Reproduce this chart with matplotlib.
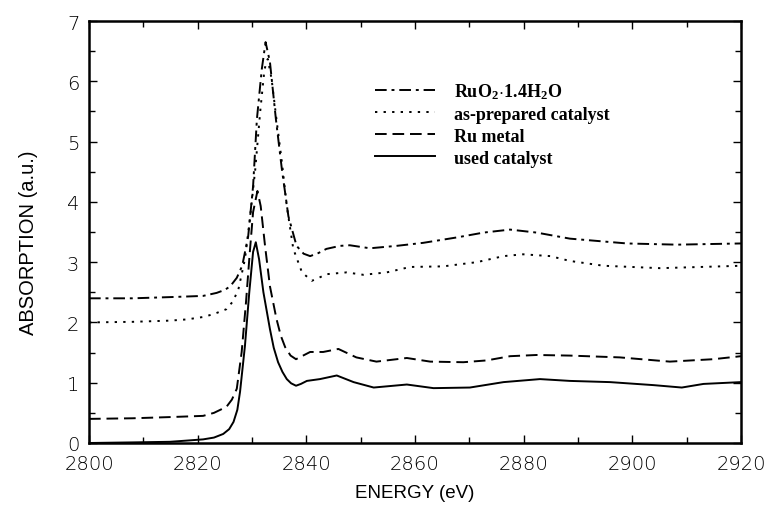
import numpy as np
import matplotlib
matplotlib.use("Agg")
import matplotlib.pyplot as plt
from matplotlib.ticker import MultipleLocator

# Ru K-edge XANES spectra
# energies (eV) and absorption (a.u.) for each sample

e_ruo2 = [2800, 2808, 2814.9, 2818, 2821, 2823.5, 2825, 2826, 2827.2, 2828.2, 2829.3,
          2830.2, 2830.9, 2831.8, 2832.5, 2833.3, 2834.4, 2835.5, 2836.7, 2838.2,
          2839.5, 2840.7, 2842.2, 2843.7, 2846.2, 2848, 2851.7, 2856.6, 2861.5,
          2867.7, 2872.6, 2877.5, 2882.4, 2888.5, 2899, 2908.2, 2920]
a_ruo2 = [2.40, 2.40, 2.42, 2.43, 2.44, 2.49, 2.54, 2.60, 2.74, 2.94, 3.43,
          4.26, 5.37, 6.20, 6.65, 6.32, 5.37, 4.54, 3.76, 3.27,
          3.14, 3.10, 3.15, 3.22, 3.27, 3.28, 3.23, 3.27, 3.32,
          3.41, 3.49, 3.54, 3.49, 3.39, 3.31, 3.29, 3.31]

e_prep = [2800, 2808, 2814.9, 2818, 2821, 2823, 2825.3, 2826.5, 2827.5, 2828.7, 2829.6,
          2830.6, 2831.5, 2832.3, 2832.9, 2833.6, 2834.5, 2835.5, 2836.4, 2837.6,
          2839.2, 2841, 2842.3, 2843.7, 2847.4, 2850.5, 2854.8, 2859.1, 2865.2,
          2871.4, 2876.3, 2879.9, 2884.9, 2888.5, 2894.7, 2905.1, 2920]
a_prep = [2.00, 2.01, 2.03, 2.05, 2.09, 2.14, 2.22, 2.35, 2.55, 3.05, 3.71,
          4.54, 5.49, 6.20, 6.37, 6.04, 5.37, 4.66, 3.93, 3.22,
          2.83, 2.69, 2.74, 2.80, 2.83, 2.79, 2.83, 2.92, 2.93,
          3.00, 3.10, 3.13, 3.10, 3.02, 2.94, 2.90, 2.94]

e_ru = [2800, 2808, 2814.9, 2818, 2821, 2823, 2825.3, 2826.3, 2827.2, 2828.1, 2828.9,
        2829.6, 2830.2, 2831, 2831.6, 2832.4, 2833.3, 2834.5, 2835.3, 2836.1,
        2837.1, 2838.1, 2839.4, 2840.7, 2843.1, 2845.9, 2849.2, 2852.9, 2858.5,
        2862.8, 2868.9, 2873.2, 2877.5, 2882.4, 2888.5, 2897.7, 2906.9, 2914.9, 2920]
a_ru = [0.40, 0.41, 0.43, 0.44, 0.45, 0.50, 0.60, 0.72, 0.90, 1.51, 2.34,
        3.17, 3.83, 4.18, 3.93, 3.27, 2.60, 2.06, 1.78, 1.59,
        1.45, 1.39, 1.45, 1.51, 1.51, 1.56, 1.42, 1.35, 1.41,
        1.35, 1.34, 1.37, 1.44, 1.46, 1.45, 1.42, 1.35, 1.39, 1.44]

e_used = [2800, 2808, 2814.9, 2818, 2821, 2823, 2824.7, 2825.8, 2826.6, 2827.3, 2827.8,
          2828.7, 2829.5, 2830.2, 2830.7, 2831.3, 2832.1, 2833.3, 2834.0, 2834.8,
          2835.6, 2836.4, 2837.2, 2838.1, 2839.0, 2840.1, 2842.5, 2845.6, 2848.7,
          2852.4, 2858.5, 2863.4, 2870.1, 2876.3, 2883, 2888.5, 2895.9, 2903.9,
          2909.1, 2913.1, 2920]
a_used = [0.00, 0.01, 0.02, 0.04, 0.06, 0.09, 0.15, 0.23, 0.35, 0.55, 0.85,
          1.61, 2.50, 3.17, 3.33, 3.05, 2.50, 1.89, 1.58, 1.34,
          1.18, 1.06, 0.99, 0.95, 0.98, 1.03, 1.06, 1.12, 1.01,
          0.92, 0.97, 0.91, 0.92, 1.01, 1.06, 1.03, 1.01, 0.96,
          0.92, 0.98, 1.01]

labels = [r"RuO$_2\!\cdot\!$1.4H$_2$O", "as-prepared catalyst", "Ru metal", "used catalyst"]

plt.rcParams["mathtext.fontset"] = "custom"
plt.rcParams["mathtext.rm"] = "Liberation Serif:bold"
plt.rcParams["mathtext.it"] = "Liberation Serif:bold:italic"

fig = plt.figure(figsize=(7.68, 5.06), dpi=100)
ax = fig.add_axes([89 / 768, 62 / 506, 652 / 768, 422 / 506])

lw = 1.4
ax.plot(e_ruo2, a_ruo2, color="black", lw=lw, dashes=(6, 2.5, 1.5, 2.5), label=labels[0])
ax.plot(e_prep, a_prep, color="black", lw=lw, dashes=(1.2, 3.2), label=labels[1])
ax.plot(e_ru, a_ru, color="black", lw=lw, dashes=(6, 3), label=labels[2])
ax.plot(e_used, a_used, color="black", lw=lw, label=labels[3])

ax.set_xlim(2800, 2920)
ax.set_ylim(0, 7)
ax.xaxis.set_major_locator(MultipleLocator(20))
ax.xaxis.set_minor_locator(MultipleLocator(10))
ax.yaxis.set_major_locator(MultipleLocator(1))
ax.yaxis.set_minor_locator(MultipleLocator(0.5))
ax.tick_params(which="both", direction="in", top=True, right=True, width=1)
ax.tick_params(which="major", length=6)
ax.tick_params(which="minor", length=4)
ax.tick_params(axis="x", pad=8)
ax.tick_params(axis="y", pad=7)
for spine in ax.spines.values():
    spine.set_linewidth(1.8)

for lab in ax.get_xticklabels() + ax.get_yticklabels():
    lab.set_fontfamily("DejaVu Sans")
    lab.set_fontweight("light")
    lab.set_fontsize(14)

ax.set_xlabel("ENERGY (eV)", fontfamily="Liberation Sans", fontsize=13.5, labelpad=8)
ax.set_ylabel("ABSORPTION (a.u.)", fontfamily="Liberation Sans", fontsize=14.5)
ax.yaxis.set_label_coords(-0.078, 0.476)

leg = ax.legend(loc="upper left", bbox_to_anchor=(0.4387, 0.858), frameon=False,
                borderpad=0, borderaxespad=0, handlelength=3.3, handletextpad=1.1,
                labelspacing=0.28, prop={"family": "Liberation Serif", "size": 13, "weight": "bold"})

fig.savefig("out.png", dpi=100)
